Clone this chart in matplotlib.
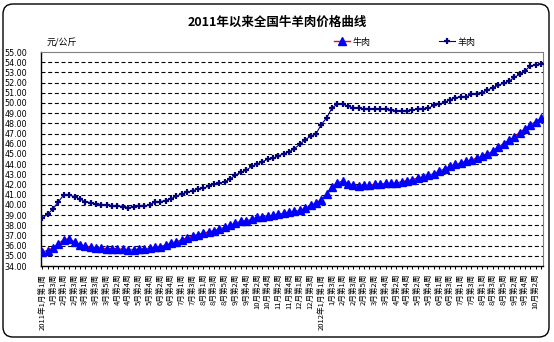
import matplotlib
matplotlib.use("Agg")
import matplotlib.pyplot as plt
from matplotlib.patches import FancyBboxPatch
import numpy as np

plt.rcParams['font.family'] = ['Noto Sans CJK SC', 'DejaVu Sans']

tick_labels = [
    "2011年1月第1周", "1月第3周", "2月第1周", "2月第3周", "3月第1周", "3月第3周", "3月第5周",
    "4月第2周", "4月第4周", "5月第2周", "5月第4周", "6月第2周", "6月第4周", "7月第1周",
    "7月第3周", "8月第1周", "8月第3周", "8月第5周", "9月第2周", "9月第4周", "10月第2周",
    "10月第4周", "11月第2周", "11月第4周", "12月第1周", "12月第3周",
    "2012年1月第1周", "1月第3周", "2月第1周", "2月第3周", "2月第5周", "3月第2周", "3月第4周",
    "4月第2周", "4月第4周", "5月第2周", "5月第4周", "6月第1周", "6月第3周", "7月第1周",
    "7月第3周", "8月第1周", "8月第3周", "8月第5周", "9月第2周", "9月第4周", "10月第2周",
]

beef = [
    35.39, 35.52, 35.78, 36.20, 36.59, 36.69, 36.36, 36.10, 35.97, 35.84,
    35.78, 35.74, 35.71, 35.71, 35.68, 35.64, 35.61, 35.61, 35.64, 35.68,
    35.74, 35.84, 35.91, 36.07, 36.23, 36.36, 36.59, 36.75, 36.95, 37.08,
    37.24, 37.34, 37.47, 37.63, 37.79, 37.98, 38.22, 38.37, 38.44, 38.57,
    38.76, 38.80, 38.90, 38.96, 39.09, 39.17, 39.32, 39.35, 39.45, 39.65,
    39.97, 40.16, 40.52, 41.10, 41.77, 42.19, 42.32, 42.06, 41.97, 41.87,
    41.90, 41.90, 42.03, 42.06, 42.10, 42.10, 42.13, 42.29, 42.35, 42.48,
    42.65, 42.74, 42.90, 43.06, 43.29, 43.55, 43.77, 43.97, 44.10, 44.29,
    44.42, 44.58, 44.77, 44.97, 45.29, 45.68, 46.00, 46.35, 46.65, 47.10,
    47.45, 47.87, 48.16, 48.48,
]

mutton = [
    38.70, 39.09, 39.61, 40.32, 40.97, 40.95, 40.81, 40.56, 40.32, 40.22,
    40.10, 40.03, 40.00, 39.93, 39.90, 39.83, 39.74, 39.80, 39.87, 39.87,
    40.03, 40.26, 40.32, 40.42, 40.61, 40.85, 41.07, 41.24, 41.36, 41.59,
    41.63, 41.82, 42.02, 42.11, 42.27, 42.53, 42.92, 43.19, 43.38, 43.77,
    44.00, 44.22, 44.48, 44.55, 44.80, 45.03, 45.20, 45.52, 45.94, 46.40,
    46.72, 46.94, 47.88, 48.53, 49.50, 49.89, 49.89, 49.66, 49.53, 49.47,
    49.44, 49.44, 49.40, 49.40, 49.37, 49.27, 49.18, 49.21, 49.24, 49.34,
    49.37, 49.40, 49.50, 49.76, 49.89, 50.05, 50.31, 50.53, 50.57, 50.60,
    50.83, 50.92, 51.02, 51.28, 51.50, 51.74, 51.93, 52.13, 52.51, 52.81,
    53.16, 53.64, 53.74, 53.84,
]

n = len(beef)
x = np.arange(n)
full_labels = []
for i in range(n):
    if i % 2 == 0 and i // 2 < len(tick_labels):
        full_labels.append(tick_labels[i // 2])
    else:
        full_labels.append("")

fig = plt.figure(figsize=(5.54, 3.42), dpi=100)
fig.patch.set_facecolor('white')
ax = fig.add_axes([41/554, 1-266/342, (543-41)/554, (266-52)/342])

ax.plot(x, beef, color='#FF0000', lw=1.0, marker='^', markersize=5.5,
        markerfacecolor='#0000FF', markeredgecolor='#0000FF', label='牛肉', zorder=3)
ax.plot(x, mutton, color='#000080', lw=0.8, marker='+', markersize=4.5,
        markeredgewidth=1.6, markeredgecolor='#000080', label='羊肉', zorder=3)

ax.set_xlim(-0.25, n - 1 + 0.35)
ax.set_ylim(34, 55)
ax.set_yticks(np.arange(34, 56, 1))
ax.set_yticklabels([f"{v:.2f}" for v in np.arange(34, 56, 1)], fontsize=5.8,
                   family='DejaVu Sans')
ax.tick_params(axis='y', length=0, pad=10)
ax.set_xticks(x)
ax.set_xticklabels(full_labels, rotation=90, fontsize=5.5, va='top', ha='center')
ax.tick_params(axis='x', length=2.5, width=0.7, pad=3, direction='out')

ax.grid(axis='y', color='black', lw=0.8, linestyle=(0, (3.6, 2.4)))
ax.set_axisbelow(True)
gls = ax.yaxis.get_gridlines()
gls[0].set_visible(False)
gls[-1].set_visible(False)

for s in ['top', 'right']:
    ax.spines[s].set_linestyle((0, (1, 1)))
    ax.spines[s].set_color('#808080')
    ax.spines[s].set_linewidth(0.8)
for s in ['left', 'bottom']:
    ax.spines[s].set_color('black')
    ax.spines[s].set_linewidth(1.0)

fig.text(277/554, 1-22/342, "2011年以来全国牛羊肉价格曲线", ha='center', va='center',
         fontsize=9, fontweight='bold')
fig.text(62/554, 1-43/342, "元/公斤", ha='center', va='center', fontsize=6.5)

leg = ax.legend(loc='center left', bbox_to_anchor=(334/554, 1-42/342),
                bbox_transform=fig.transFigure, ncol=2, frameon=False, fontsize=6.5,
                handlelength=1.8, handletextpad=0.3, columnspacing=7.5,
                borderpad=0, borderaxespad=0)

border = FancyBboxPatch((3, 5), 546, 333, boxstyle='round,pad=0,rounding_size=10',
                        transform=None, fill=False, edgecolor='black', lw=1.0)
fig.patches.append(border)

fig.savefig("out.png", dpi=100)
